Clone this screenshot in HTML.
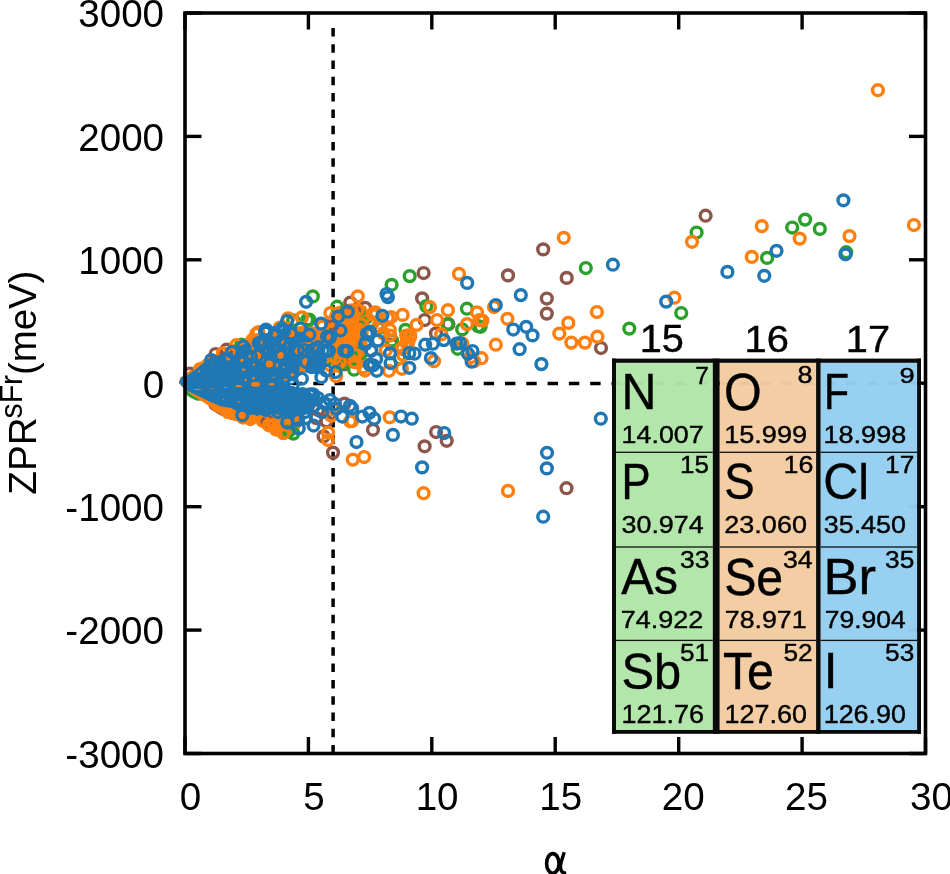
<!DOCTYPE html>
<html><head><meta charset="utf-8"><style>
html,body{margin:0;padding:0;background:#fff;}
svg{display:block;}
</style></head><body>
<svg width="950" height="874" viewBox="0 0 950 874" style="will-change:transform">
<line x1="185.0" y1="753.5" x2="185.0" y2="737" stroke="#000" stroke-width="3.4"/>
<line x1="185.0" y1="13" x2="185.0" y2="29.5" stroke="#000" stroke-width="3.4"/>
<line x1="308.4" y1="753.5" x2="308.4" y2="737" stroke="#000" stroke-width="3.4"/>
<line x1="308.4" y1="13" x2="308.4" y2="29.5" stroke="#000" stroke-width="3.4"/>
<line x1="431.8" y1="753.5" x2="431.8" y2="737" stroke="#000" stroke-width="3.4"/>
<line x1="431.8" y1="13" x2="431.8" y2="29.5" stroke="#000" stroke-width="3.4"/>
<line x1="555.2" y1="753.5" x2="555.2" y2="737" stroke="#000" stroke-width="3.4"/>
<line x1="555.2" y1="13" x2="555.2" y2="29.5" stroke="#000" stroke-width="3.4"/>
<line x1="678.7" y1="753.5" x2="678.7" y2="737" stroke="#000" stroke-width="3.4"/>
<line x1="678.7" y1="13" x2="678.7" y2="29.5" stroke="#000" stroke-width="3.4"/>
<line x1="802.1" y1="753.5" x2="802.1" y2="737" stroke="#000" stroke-width="3.4"/>
<line x1="802.1" y1="13" x2="802.1" y2="29.5" stroke="#000" stroke-width="3.4"/>
<line x1="925.5" y1="753.5" x2="925.5" y2="737" stroke="#000" stroke-width="3.4"/>
<line x1="925.5" y1="13" x2="925.5" y2="29.5" stroke="#000" stroke-width="3.4"/>
<line x1="185" y1="753.5" x2="201.5" y2="753.5" stroke="#000" stroke-width="3.4"/>
<line x1="925.5" y1="753.5" x2="909" y2="753.5" stroke="#000" stroke-width="3.4"/>
<line x1="185" y1="630.1" x2="201.5" y2="630.1" stroke="#000" stroke-width="3.4"/>
<line x1="925.5" y1="630.1" x2="909" y2="630.1" stroke="#000" stroke-width="3.4"/>
<line x1="185" y1="506.7" x2="201.5" y2="506.7" stroke="#000" stroke-width="3.4"/>
<line x1="925.5" y1="506.7" x2="909" y2="506.7" stroke="#000" stroke-width="3.4"/>
<line x1="185" y1="383.2" x2="201.5" y2="383.2" stroke="#000" stroke-width="3.4"/>
<line x1="925.5" y1="383.2" x2="909" y2="383.2" stroke="#000" stroke-width="3.4"/>
<line x1="185" y1="259.8" x2="201.5" y2="259.8" stroke="#000" stroke-width="3.4"/>
<line x1="925.5" y1="259.8" x2="909" y2="259.8" stroke="#000" stroke-width="3.4"/>
<line x1="185" y1="136.4" x2="201.5" y2="136.4" stroke="#000" stroke-width="3.4"/>
<line x1="925.5" y1="136.4" x2="909" y2="136.4" stroke="#000" stroke-width="3.4"/>
<line x1="185" y1="13.0" x2="201.5" y2="13.0" stroke="#000" stroke-width="3.4"/>
<line x1="925.5" y1="13.0" x2="909" y2="13.0" stroke="#000" stroke-width="3.4"/>
<line x1="185.5" y1="383.5" x2="921" y2="383.5" stroke="#000" stroke-width="3.5" stroke-dasharray="10.4 10.9"/>
<line x1="333.1" y1="27.9" x2="333.1" y2="753.5" stroke="#000" stroke-width="3.5" stroke-dasharray="8.5 7.8"/>
<polygon points="179,383 180,378 186,373 195,367 204,359 212,355 220,353 226,349 232,345 238,341 245,339 252,337 256,333 260,334 270,336 278,333 283,332 290,330 296,327 305,325 312,326 318,328 326,328 332,322 334,350 330,362 320,368 310,370 300,372 296,380 290,386 185,390" fill="#ff7f0e"/>
<polygon points="185,389 189,392.5 194,396 199,398.5 203,400.5 197,400.8 191,398 186.5,395" fill="#2ca02c"/>
<polygon points="208,405 215,409 222,413 230,418 236,421 228,419 218,414 210,409" fill="#8c564b"/>
<polygon points="185,388.5 186.6,391.1 191.4,393.9 196.1,397.7 203.7,402.5 209.4,406.3 213.2,411 219.8,413.8 225,418.7 236,419.5 243.5,422.9 250.3,424.6 257,422.9 262.9,427.1 268.8,431.3 275.5,435.5 284,438.9 289,435.5 296,434 300,428 304,420 304,405 300,392 290,386" fill="#ff7f0e"/>
<polygon points="326,322 332,308 345,304 356,303 366,306 370,318 368,340 366,358 360,366 345,368 334,366 326,364" fill="#ff7f0e"/>
<g fill="none" stroke-width="3.45">
<circle cx="705.6" cy="215.7" r="5.4" stroke="#8c564b"/>
<circle cx="543.2" cy="249.4" r="5.4" stroke="#8c564b"/>
<circle cx="508" cy="275.4" r="5.4" stroke="#8c564b"/>
<circle cx="566.7" cy="277.9" r="5.4" stroke="#8c564b"/>
<circle cx="546.8" cy="298.5" r="5.4" stroke="#8c564b"/>
<circle cx="546.8" cy="313.6" r="5.4" stroke="#8c564b"/>
<circle cx="601" cy="348" r="5.4" stroke="#8c564b"/>
<circle cx="566.5" cy="488.2" r="5.4" stroke="#8c564b"/>
<circle cx="344.5" cy="403.6" r="5.4" stroke="#8c564b"/>
<circle cx="373" cy="429.8" r="5.4" stroke="#8c564b"/>
<circle cx="333" cy="452.6" r="5.4" stroke="#8c564b"/>
<circle cx="436.1" cy="432" r="5.4" stroke="#8c564b"/>
<circle cx="446.7" cy="440.8" r="5.4" stroke="#8c564b"/>
<circle cx="424.6" cy="446.3" r="5.4" stroke="#8c564b"/>
<circle cx="423.6" cy="273" r="5.4" stroke="#8c564b"/>
<circle cx="422.1" cy="298.4" r="5.4" stroke="#8c564b"/>
<circle cx="365.2" cy="307.8" r="5.4" stroke="#8c564b"/>
<circle cx="391.7" cy="344.6" r="5.4" stroke="#8c564b"/>
<circle cx="332.1" cy="326.2" r="5.4" stroke="#8c564b"/>
<circle cx="371.1" cy="350.6" r="5.4" stroke="#8c564b"/>
<circle cx="344.4" cy="364.3" r="5.4" stroke="#8c564b"/>
<circle cx="424.7" cy="320" r="5.4" stroke="#8c564b"/>
<circle cx="436" cy="333.4" r="5.4" stroke="#8c564b"/>
<circle cx="448.4" cy="324.1" r="5.4" stroke="#8c564b"/>
<circle cx="226.7" cy="349.6" r="5.4" stroke="#8c564b"/>
<circle cx="215.6" cy="354" r="5.4" stroke="#8c564b"/>
<circle cx="190" cy="373.5" r="5.4" stroke="#8c564b"/>
<circle cx="326.4" cy="421.3" r="5.4" stroke="#8c564b"/>
<circle cx="323.6" cy="436.4" r="5.4" stroke="#8c564b"/>
<circle cx="267.7" cy="422.2" r="5.4" stroke="#8c564b"/>
<circle cx="350.3" cy="302.6" r="5.4" stroke="#8c564b"/>
<circle cx="331.3" cy="324.2" r="5.4" stroke="#8c564b"/>
<circle cx="360.8" cy="326.3" r="5.4" stroke="#8c564b"/>
<circle cx="318" cy="410" r="5.4" stroke="#8c564b"/>
<circle cx="330" cy="414" r="5.4" stroke="#8c564b"/>
<circle cx="316" cy="418" r="5.4" stroke="#8c564b"/>
<circle cx="696.6" cy="232.5" r="5.4" stroke="#2ca02c"/>
<circle cx="792.2" cy="227.5" r="5.4" stroke="#2ca02c"/>
<circle cx="805.1" cy="219.6" r="5.4" stroke="#2ca02c"/>
<circle cx="819.8" cy="228.9" r="5.4" stroke="#2ca02c"/>
<circle cx="846.2" cy="252.2" r="5.4" stroke="#2ca02c"/>
<circle cx="767.1" cy="257.9" r="5.4" stroke="#2ca02c"/>
<circle cx="681.2" cy="313" r="5.4" stroke="#2ca02c"/>
<circle cx="629.3" cy="328.6" r="5.4" stroke="#2ca02c"/>
<circle cx="585.8" cy="268" r="5.4" stroke="#2ca02c"/>
<circle cx="480.6" cy="326.8" r="5.4" stroke="#2ca02c"/>
<circle cx="462.2" cy="329.4" r="5.4" stroke="#2ca02c"/>
<circle cx="391.6" cy="284.8" r="5.4" stroke="#2ca02c"/>
<circle cx="409.7" cy="276.1" r="5.4" stroke="#2ca02c"/>
<circle cx="426.3" cy="306.1" r="5.4" stroke="#2ca02c"/>
<circle cx="466.9" cy="308.7" r="5.4" stroke="#2ca02c"/>
<circle cx="337.1" cy="306.7" r="5.4" stroke="#2ca02c"/>
<circle cx="366.3" cy="317.7" r="5.4" stroke="#2ca02c"/>
<circle cx="392" cy="340.5" r="5.4" stroke="#2ca02c"/>
<circle cx="378.4" cy="328.2" r="5.4" stroke="#2ca02c"/>
<circle cx="342.4" cy="362.9" r="5.4" stroke="#2ca02c"/>
<circle cx="354.1" cy="369.7" r="5.4" stroke="#2ca02c"/>
<circle cx="361.1" cy="353.1" r="5.4" stroke="#2ca02c"/>
<circle cx="447.4" cy="324.1" r="5.4" stroke="#2ca02c"/>
<circle cx="405.5" cy="329.8" r="5.4" stroke="#2ca02c"/>
<circle cx="457.7" cy="348.8" r="5.4" stroke="#2ca02c"/>
<circle cx="478.2" cy="326.2" r="5.4" stroke="#2ca02c"/>
<circle cx="402.1" cy="348.8" r="5.4" stroke="#2ca02c"/>
<circle cx="312.8" cy="296.4" r="5.4" stroke="#2ca02c"/>
<circle cx="307.2" cy="319.8" r="5.4" stroke="#2ca02c"/>
<circle cx="293.2" cy="320.3" r="5.4" stroke="#2ca02c"/>
<circle cx="241.4" cy="344.5" r="5.4" stroke="#2ca02c"/>
<circle cx="309.3" cy="319.6" r="5.4" stroke="#2ca02c"/>
<circle cx="339.5" cy="363.3" r="5.4" stroke="#2ca02c"/>
<circle cx="326.4" cy="359.8" r="5.4" stroke="#2ca02c"/>
<circle cx="293.3" cy="433.6" r="5.4" stroke="#2ca02c"/>
<circle cx="289" cy="431" r="5.4" stroke="#2ca02c"/>
<circle cx="360.8" cy="324.2" r="5.4" stroke="#2ca02c"/>
<circle cx="337.1" cy="355.8" r="5.4" stroke="#2ca02c"/>
<circle cx="370" cy="321.3" r="5.4" stroke="#2ca02c"/>
<circle cx="399.5" cy="358.2" r="5.4" stroke="#2ca02c"/>
<circle cx="877.9" cy="90.2" r="5.4" stroke="#ff7f0e"/>
<circle cx="913.9" cy="225" r="5.4" stroke="#ff7f0e"/>
<circle cx="692" cy="241.8" r="5.4" stroke="#ff7f0e"/>
<circle cx="761.8" cy="226.1" r="5.4" stroke="#ff7f0e"/>
<circle cx="799.7" cy="238.6" r="5.4" stroke="#ff7f0e"/>
<circle cx="849.5" cy="236.1" r="5.4" stroke="#ff7f0e"/>
<circle cx="751.8" cy="256.9" r="5.4" stroke="#ff7f0e"/>
<circle cx="674.4" cy="297.7" r="5.4" stroke="#ff7f0e"/>
<circle cx="563.8" cy="237.8" r="5.4" stroke="#ff7f0e"/>
<circle cx="494" cy="307" r="5.4" stroke="#ff7f0e"/>
<circle cx="477" cy="312.3" r="5.4" stroke="#ff7f0e"/>
<circle cx="507.4" cy="318.8" r="5.4" stroke="#ff7f0e"/>
<circle cx="596.9" cy="312" r="5.4" stroke="#ff7f0e"/>
<circle cx="568.3" cy="322.9" r="5.4" stroke="#ff7f0e"/>
<circle cx="482.4" cy="320.6" r="5.4" stroke="#ff7f0e"/>
<circle cx="467" cy="324.1" r="5.4" stroke="#ff7f0e"/>
<circle cx="559.3" cy="333.6" r="5.4" stroke="#ff7f0e"/>
<circle cx="571.3" cy="342.6" r="5.4" stroke="#ff7f0e"/>
<circle cx="584.9" cy="342.6" r="5.4" stroke="#ff7f0e"/>
<circle cx="597.4" cy="336.7" r="5.4" stroke="#ff7f0e"/>
<circle cx="495.8" cy="344.7" r="5.4" stroke="#ff7f0e"/>
<circle cx="470.7" cy="357.3" r="5.4" stroke="#ff7f0e"/>
<circle cx="481.5" cy="358.2" r="5.4" stroke="#ff7f0e"/>
<circle cx="462.2" cy="343.4" r="5.4" stroke="#ff7f0e"/>
<circle cx="508" cy="490.9" r="5.4" stroke="#ff7f0e"/>
<circle cx="352.1" cy="421" r="5.4" stroke="#ff7f0e"/>
<circle cx="332.9" cy="409.2" r="5.4" stroke="#ff7f0e"/>
<circle cx="389.7" cy="417.3" r="5.4" stroke="#ff7f0e"/>
<circle cx="328.1" cy="432.6" r="5.4" stroke="#ff7f0e"/>
<circle cx="328" cy="440" r="5.4" stroke="#ff7f0e"/>
<circle cx="352.8" cy="459.6" r="5.4" stroke="#ff7f0e"/>
<circle cx="364.2" cy="457" r="5.4" stroke="#ff7f0e"/>
<circle cx="423.6" cy="493.2" r="5.4" stroke="#ff7f0e"/>
<circle cx="459" cy="273.9" r="5.4" stroke="#ff7f0e"/>
<circle cx="357.8" cy="296.3" r="5.4" stroke="#ff7f0e"/>
<circle cx="429.9" cy="307.1" r="5.4" stroke="#ff7f0e"/>
<circle cx="447.9" cy="310.2" r="5.4" stroke="#ff7f0e"/>
<circle cx="402.6" cy="314.9" r="5.4" stroke="#ff7f0e"/>
<circle cx="375.8" cy="314.9" r="5.4" stroke="#ff7f0e"/>
<circle cx="387.7" cy="318" r="5.4" stroke="#ff7f0e"/>
<circle cx="389.9" cy="330" r="5.4" stroke="#ff7f0e"/>
<circle cx="357.5" cy="310.1" r="5.4" stroke="#ff7f0e"/>
<circle cx="350.6" cy="326.2" r="5.4" stroke="#ff7f0e"/>
<circle cx="360.9" cy="324.1" r="5.4" stroke="#ff7f0e"/>
<circle cx="378.1" cy="326.9" r="5.4" stroke="#ff7f0e"/>
<circle cx="401.9" cy="348.2" r="5.4" stroke="#ff7f0e"/>
<circle cx="406.2" cy="335.5" r="5.4" stroke="#ff7f0e"/>
<circle cx="354.6" cy="362.1" r="5.4" stroke="#ff7f0e"/>
<circle cx="335.3" cy="357.4" r="5.4" stroke="#ff7f0e"/>
<circle cx="401.9" cy="368.8" r="5.4" stroke="#ff7f0e"/>
<circle cx="363" cy="367.4" r="5.4" stroke="#ff7f0e"/>
<circle cx="437.1" cy="320" r="5.4" stroke="#ff7f0e"/>
<circle cx="416.6" cy="324.9" r="5.4" stroke="#ff7f0e"/>
<circle cx="479.3" cy="320" r="5.4" stroke="#ff7f0e"/>
<circle cx="441.2" cy="334.4" r="5.4" stroke="#ff7f0e"/>
<circle cx="410.1" cy="335.2" r="5.4" stroke="#ff7f0e"/>
<circle cx="406.2" cy="342.7" r="5.4" stroke="#ff7f0e"/>
<circle cx="434" cy="361.2" r="5.4" stroke="#ff7f0e"/>
<circle cx="474.1" cy="361.2" r="5.4" stroke="#ff7f0e"/>
<circle cx="403.1" cy="355" r="5.4" stroke="#ff7f0e"/>
<circle cx="302" cy="317.4" r="5.4" stroke="#ff7f0e"/>
<circle cx="330.4" cy="313" r="5.4" stroke="#ff7f0e"/>
<circle cx="288.1" cy="318.3" r="5.4" stroke="#ff7f0e"/>
<circle cx="279.9" cy="327.5" r="5.4" stroke="#ff7f0e"/>
<circle cx="223" cy="353.3" r="5.4" stroke="#ff7f0e"/>
<circle cx="236.3" cy="345.2" r="5.4" stroke="#ff7f0e"/>
<circle cx="252.3" cy="340.2" r="5.4" stroke="#ff7f0e"/>
<circle cx="258.4" cy="332" r="5.4" stroke="#ff7f0e"/>
<circle cx="200" cy="369" r="5.4" stroke="#ff7f0e"/>
<circle cx="256.2" cy="334" r="5.4" stroke="#ff7f0e"/>
<circle cx="346.5" cy="319" r="5.4" stroke="#ff7f0e"/>
<circle cx="340.3" cy="336.5" r="5.4" stroke="#ff7f0e"/>
<circle cx="355.7" cy="336.5" r="5.4" stroke="#ff7f0e"/>
<circle cx="350.6" cy="342.7" r="5.4" stroke="#ff7f0e"/>
<circle cx="343.4" cy="348.8" r="5.4" stroke="#ff7f0e"/>
<circle cx="355.7" cy="355" r="5.4" stroke="#ff7f0e"/>
<circle cx="383.5" cy="333.4" r="5.4" stroke="#ff7f0e"/>
<circle cx="408.2" cy="342.7" r="5.4" stroke="#ff7f0e"/>
<circle cx="358.8" cy="330.3" r="5.4" stroke="#ff7f0e"/>
<circle cx="336.5" cy="346.3" r="5.4" stroke="#ff7f0e"/>
<circle cx="305" cy="350" r="5.4" stroke="#ff7f0e"/>
<circle cx="306" cy="362" r="5.4" stroke="#ff7f0e"/>
<circle cx="304" cy="342" r="5.4" stroke="#ff7f0e"/>
<circle cx="336.1" cy="376.2" r="5.4" stroke="#ff7f0e"/>
<circle cx="330" cy="365" r="5.4" stroke="#ff7f0e"/>
<circle cx="340" cy="362" r="5.4" stroke="#ff7f0e"/>
<circle cx="283.4" cy="433.2" r="5.4" stroke="#ff7f0e"/>
<circle cx="273.4" cy="425" r="5.4" stroke="#ff7f0e"/>
<circle cx="331.2" cy="415.6" r="5.4" stroke="#ff7f0e"/>
<circle cx="350.1" cy="421.3" r="5.4" stroke="#ff7f0e"/>
<circle cx="236" cy="414" r="5.4" stroke="#ff7f0e"/>
<circle cx="250.3" cy="419" r="5.4" stroke="#ff7f0e"/>
<circle cx="262.9" cy="421" r="5.4" stroke="#ff7f0e"/>
<circle cx="268.8" cy="425.3" r="5.4" stroke="#ff7f0e"/>
<circle cx="276" cy="429.5" r="5.4" stroke="#ff7f0e"/>
<circle cx="229" cy="412" r="5.4" stroke="#ff7f0e"/>
<circle cx="352.4" cy="323.7" r="5.4" stroke="#ff7f0e"/>
<circle cx="351.3" cy="334.2" r="5.4" stroke="#ff7f0e"/>
<circle cx="340.8" cy="341" r="5.4" stroke="#ff7f0e"/>
<circle cx="372.4" cy="314.2" r="5.4" stroke="#ff7f0e"/>
<circle cx="372.4" cy="323.7" r="5.4" stroke="#ff7f0e"/>
<circle cx="365" cy="370.5" r="5.4" stroke="#ff7f0e"/>
<circle cx="375.3" cy="312.4" r="5.4" stroke="#ff7f0e"/>
<circle cx="391" cy="317.1" r="5.4" stroke="#ff7f0e"/>
<circle cx="390" cy="335.5" r="5.4" stroke="#ff7f0e"/>
<circle cx="410" cy="337.6" r="5.4" stroke="#ff7f0e"/>
<circle cx="385.8" cy="350.3" r="5.4" stroke="#ff7f0e"/>
<circle cx="388.9" cy="370.8" r="5.4" stroke="#ff7f0e"/>
<circle cx="322.5" cy="326.5" r="5.4" stroke="#ff7f0e"/>
<circle cx="243" cy="417.5" r="5.4" stroke="#ff7f0e"/>
<circle cx="285" cy="424.5" r="5.4" stroke="#ff7f0e"/>
</g>
<polygon points="179,383 181,377.5 188,374.5 196,369 204,362.5 210,357.5 220,357.5 226,356 233,357.5 238,347 245,343.5 252,345 258,341 266,337 276,333 285,326 295,330 303,333 310,338 314,344 320,346 326,350 327,360 325,370 318,374 310,374 305,372 298,377 295,383 290,386 185,389" fill="#1f77b4"/>
<polygon points="185,388.5 187.1,391 196.1,395 208.4,401 219.8,406 225,407 230.9,408 236.8,411 240,411.5 245,411.5 250.3,413 257,416 263.7,414 275.5,414 282,416 288,417 296,416 305,415 311,412 316,405 315,396 308,390 300,388 290,385.8 262,385.8" fill="#1f77b4"/>
<polygon points="300.5,343 311.5,342 309,352 306,365 305,372 299.5,372 300,360" fill="#ff7f0e"/>
<ellipse cx="228.1" cy="358.4" rx="2.5" ry="2" fill="#ff7f0e"/>
<ellipse cx="242.5" cy="360.4" rx="2" ry="1.6" fill="#ff7f0e"/>
<ellipse cx="213.2" cy="363.6" rx="1.2" ry="1.2" fill="#ff7f0e"/>
<ellipse cx="199.2" cy="371.6" rx="1" ry="1" fill="#ff7f0e"/>
<ellipse cx="244.1" cy="369.6" rx="1.5" ry="0.8" fill="#ff7f0e"/>
<ellipse cx="245.7" cy="380" rx="1" ry="1" fill="#ff7f0e"/>
<ellipse cx="238.5" cy="386.1" rx="2" ry="0.8" fill="#ff7f0e"/>
<ellipse cx="225.7" cy="387.3" rx="2" ry="0.6" fill="#ff7f0e"/>
<ellipse cx="251" cy="356.2" rx="2.5" ry="1.8" fill="#ff7f0e"/>
<ellipse cx="242.4" cy="360.3" rx="2" ry="1.6" fill="#ff7f0e"/>
<ellipse cx="264" cy="360.3" rx="2.5" ry="1.5" fill="#ff7f0e"/>
<ellipse cx="274.3" cy="365.1" rx="4" ry="2.5" fill="#ff7f0e"/>
<ellipse cx="287.4" cy="343.1" rx="2.5" ry="1.5" fill="#ff7f0e"/>
<ellipse cx="280.5" cy="345.2" rx="1.5" ry="1.5" fill="#ff7f0e"/>
<ellipse cx="291.5" cy="334.2" rx="1.5" ry="3" fill="#ff7f0e"/>
<ellipse cx="282.6" cy="337.6" rx="1.2" ry="1.2" fill="#ff7f0e"/>
<ellipse cx="266" cy="350.7" rx="1" ry="1" fill="#ff7f0e"/>
<ellipse cx="277.7" cy="356.2" rx="1" ry="2" fill="#ff7f0e"/>
<ellipse cx="253.5" cy="346" rx="2.2" ry="5.5" fill="#ff7f0e"/>
<ellipse cx="259.9" cy="343.5" rx="1.5" ry="2.5" fill="#ff7f0e"/>
<ellipse cx="253.9" cy="364.6" rx="1.2" ry="1.2" fill="#ff7f0e"/>
<ellipse cx="243.8" cy="369.7" rx="2" ry="0.8" fill="#ff7f0e"/>
<ellipse cx="286.7" cy="351.7" rx="1.2" ry="1.2" fill="#ff7f0e"/>
<ellipse cx="255.5" cy="384.2" rx="4.5" ry="2.5" fill="#ff7f0e"/>
<ellipse cx="271.6" cy="384.2" rx="3" ry="1.2" fill="#ff7f0e"/>
<ellipse cx="292.4" cy="374.7" rx="1.8" ry="1.8" fill="#ff7f0e"/>
<ellipse cx="285.5" cy="379.8" rx="2" ry="1" fill="#ff7f0e"/>
<ellipse cx="253.6" cy="378.2" rx="1.2" ry="1.2" fill="#ff7f0e"/>
<ellipse cx="245.4" cy="379.8" rx="1" ry="1" fill="#ff7f0e"/>
<ellipse cx="240.6" cy="386.4" rx="1.5" ry="0.8" fill="#ff7f0e"/>
<ellipse cx="283.6" cy="367.2" rx="1" ry="1" fill="#ff7f0e"/>
<ellipse cx="273.5" cy="377.3" rx="0.8" ry="0.8" fill="#ff7f0e"/>
<ellipse cx="276.6" cy="347.6" rx="0.8" ry="0.8" fill="#ff7f0e"/>
<ellipse cx="291" cy="381.5" rx="2.5" ry="1.2" fill="#ffffff"/>
<ellipse cx="298" cy="386" rx="2" ry="1.5" fill="#ffffff"/>
<ellipse cx="197.6" cy="389.3" rx="4" ry="0.5" fill="#ff7f0e"/>
<ellipse cx="212" cy="388.8" rx="3" ry="0.4" fill="#ff7f0e"/>
<ellipse cx="238.1" cy="386.3" rx="3" ry="1" fill="#ff7f0e"/>
<ellipse cx="243.1" cy="369.6" rx="1.5" ry="1" fill="#ff7f0e"/>
<ellipse cx="238.7" cy="402.1" rx="1" ry="1" fill="#ff7f0e"/>
<ellipse cx="223.5" cy="399.3" rx="0.7" ry="0.7" fill="#ff7f0e"/>
<ellipse cx="207" cy="388.9" rx="2.5" ry="0.4" fill="#8c564b"/>
<ellipse cx="233" cy="387.2" rx="1.5" ry="0.4" fill="#2ca02c"/>
<circle cx="264.2" cy="342.1" r="3.7" fill="#ff7f0e"/>
<circle cx="264.2" cy="342.1" r="5.4" fill="none" stroke="#1f77b4" stroke-width="3.45"/>
<circle cx="274.3" cy="335.4" r="3.7" fill="#ff7f0e"/>
<circle cx="274.3" cy="335.4" r="5.4" fill="none" stroke="#1f77b4" stroke-width="3.45"/>
<circle cx="284.4" cy="343.8" r="3.7" fill="#ff7f0e"/>
<circle cx="284.4" cy="343.8" r="5.4" fill="none" stroke="#1f77b4" stroke-width="3.45"/>
<circle cx="281" cy="355.6" r="3.7" fill="#ff7f0e"/>
<circle cx="281" cy="355.6" r="5.4" fill="none" stroke="#1f77b4" stroke-width="3.45"/>
<circle cx="269.3" cy="364" r="3.7" fill="#ff7f0e"/>
<circle cx="269.3" cy="364" r="5.4" fill="none" stroke="#1f77b4" stroke-width="3.45"/>
<circle cx="257.5" cy="355.6" r="3.7" fill="#ff7f0e"/>
<circle cx="257.5" cy="355.6" r="5.4" fill="none" stroke="#1f77b4" stroke-width="3.45"/>
<circle cx="291.2" cy="333.7" r="3.7" fill="#ff7f0e"/>
<circle cx="291.2" cy="333.7" r="5.4" fill="none" stroke="#1f77b4" stroke-width="3.45"/>
<circle cx="297.9" cy="350.5" r="3.7" fill="#ff7f0e"/>
<circle cx="297.9" cy="350.5" r="5.4" fill="none" stroke="#1f77b4" stroke-width="3.45"/>
<circle cx="311.4" cy="350.5" r="3.7" fill="#ff7f0e"/>
<circle cx="311.4" cy="350.5" r="5.4" fill="none" stroke="#1f77b4" stroke-width="3.45"/>
<circle cx="318.1" cy="347.2" r="3.7" fill="#ff7f0e"/>
<circle cx="318.1" cy="347.2" r="5.4" fill="none" stroke="#1f77b4" stroke-width="3.45"/>
<circle cx="326.5" cy="351" r="3.7" fill="#ffffff"/>
<circle cx="326.5" cy="351" r="5.4" fill="none" stroke="#1f77b4" stroke-width="3.45"/>
<g fill="none" stroke-width="3.45">
<circle cx="843.4" cy="200.3" r="5.4" stroke="#1f77b4"/>
<circle cx="845.5" cy="254.3" r="5.4" stroke="#1f77b4"/>
<circle cx="776.5" cy="250.8" r="5.4" stroke="#1f77b4"/>
<circle cx="764.3" cy="275.8" r="5.4" stroke="#1f77b4"/>
<circle cx="727.4" cy="271.9" r="5.4" stroke="#1f77b4"/>
<circle cx="612.9" cy="264.7" r="5.4" stroke="#1f77b4"/>
<circle cx="666.2" cy="301.6" r="5.4" stroke="#1f77b4"/>
<circle cx="520.8" cy="295.1" r="5.4" stroke="#1f77b4"/>
<circle cx="495.8" cy="305" r="5.4" stroke="#1f77b4"/>
<circle cx="513.3" cy="329.5" r="5.4" stroke="#1f77b4"/>
<circle cx="526.2" cy="326.8" r="5.4" stroke="#1f77b4"/>
<circle cx="532.5" cy="335.4" r="5.4" stroke="#1f77b4"/>
<circle cx="519.6" cy="349.2" r="5.4" stroke="#1f77b4"/>
<circle cx="541.4" cy="364.1" r="5.4" stroke="#1f77b4"/>
<circle cx="600.8" cy="418.7" r="5.4" stroke="#1f77b4"/>
<circle cx="468" cy="353.7" r="5.4" stroke="#1f77b4"/>
<circle cx="472.5" cy="351" r="5.4" stroke="#1f77b4"/>
<circle cx="471.6" cy="361.7" r="5.4" stroke="#1f77b4"/>
<circle cx="460" cy="343" r="5.4" stroke="#1f77b4"/>
<circle cx="547" cy="452.8" r="5.4" stroke="#1f77b4"/>
<circle cx="546.8" cy="468.4" r="5.4" stroke="#1f77b4"/>
<circle cx="543.2" cy="516.7" r="5.4" stroke="#1f77b4"/>
<circle cx="336.4" cy="408.8" r="5.4" stroke="#1f77b4"/>
<circle cx="349.9" cy="405.8" r="5.4" stroke="#1f77b4"/>
<circle cx="352.1" cy="408.4" r="5.4" stroke="#1f77b4"/>
<circle cx="342.2" cy="416.5" r="5.4" stroke="#1f77b4"/>
<circle cx="362.4" cy="416.5" r="5.4" stroke="#1f77b4"/>
<circle cx="369.5" cy="412.8" r="5.4" stroke="#1f77b4"/>
<circle cx="374.2" cy="418.7" r="5.4" stroke="#1f77b4"/>
<circle cx="401" cy="416.5" r="5.4" stroke="#1f77b4"/>
<circle cx="411.8" cy="418.7" r="5.4" stroke="#1f77b4"/>
<circle cx="392.9" cy="434.9" r="5.4" stroke="#1f77b4"/>
<circle cx="356.5" cy="442" r="5.4" stroke="#1f77b4"/>
<circle cx="444.2" cy="433" r="5.4" stroke="#1f77b4"/>
<circle cx="422.1" cy="467.4" r="5.4" stroke="#1f77b4"/>
<circle cx="386.5" cy="294" r="5.4" stroke="#1f77b4"/>
<circle cx="387.9" cy="297.1" r="5.4" stroke="#1f77b4"/>
<circle cx="467.2" cy="282.9" r="5.4" stroke="#1f77b4"/>
<circle cx="347.8" cy="311.7" r="5.4" stroke="#1f77b4"/>
<circle cx="338.2" cy="316.7" r="5.4" stroke="#1f77b4"/>
<circle cx="340.5" cy="330.5" r="5.4" stroke="#1f77b4"/>
<circle cx="382.4" cy="315.8" r="5.4" stroke="#1f77b4"/>
<circle cx="367" cy="333.8" r="5.4" stroke="#1f77b4"/>
<circle cx="377.9" cy="340.5" r="5.4" stroke="#1f77b4"/>
<circle cx="365.2" cy="344.2" r="5.4" stroke="#1f77b4"/>
<circle cx="347.1" cy="351.1" r="5.4" stroke="#1f77b4"/>
<circle cx="330" cy="337.5" r="5.4" stroke="#1f77b4"/>
<circle cx="328.9" cy="350.7" r="5.4" stroke="#1f77b4"/>
<circle cx="390.1" cy="353.4" r="5.4" stroke="#1f77b4"/>
<circle cx="390.6" cy="363" r="5.4" stroke="#1f77b4"/>
<circle cx="373.2" cy="365.3" r="5.4" stroke="#1f77b4"/>
<circle cx="376.1" cy="358.9" r="5.4" stroke="#1f77b4"/>
<circle cx="409.3" cy="367.8" r="5.4" stroke="#1f77b4"/>
<circle cx="335.7" cy="372" r="5.4" stroke="#1f77b4"/>
<circle cx="409.3" cy="353" r="5.4" stroke="#1f77b4"/>
<circle cx="425.2" cy="344.7" r="5.4" stroke="#1f77b4"/>
<circle cx="432.9" cy="343.7" r="5.4" stroke="#1f77b4"/>
<circle cx="443.8" cy="340.1" r="5.4" stroke="#1f77b4"/>
<circle cx="456.6" cy="343.7" r="5.4" stroke="#1f77b4"/>
<circle cx="414.5" cy="353.7" r="5.4" stroke="#1f77b4"/>
<circle cx="430.9" cy="358.1" r="5.4" stroke="#1f77b4"/>
<circle cx="306.1" cy="301.8" r="5.4" stroke="#1f77b4"/>
<circle cx="287.1" cy="321" r="5.4" stroke="#1f77b4"/>
<circle cx="321.1" cy="323.6" r="5.4" stroke="#1f77b4"/>
<circle cx="266" cy="329.6" r="5.4" stroke="#1f77b4"/>
<circle cx="211.2" cy="360" r="5.4" stroke="#1f77b4"/>
<circle cx="227.4" cy="358.5" r="5.4" stroke="#1f77b4"/>
<circle cx="243.4" cy="346.5" r="5.4" stroke="#1f77b4"/>
<circle cx="260.8" cy="343.4" r="5.4" stroke="#1f77b4"/>
<circle cx="265.1" cy="332.3" r="5.4" stroke="#1f77b4"/>
<circle cx="240" cy="359.2" r="5.4" stroke="#1f77b4"/>
<circle cx="251" cy="356.8" r="5.4" stroke="#1f77b4"/>
<circle cx="266.3" cy="332.5" r="5.4" stroke="#1f77b4"/>
<circle cx="284" cy="330.9" r="5.4" stroke="#1f77b4"/>
<circle cx="300.7" cy="328.5" r="5.4" stroke="#1f77b4"/>
<circle cx="309.4" cy="334.7" r="5.4" stroke="#1f77b4"/>
<circle cx="327.1" cy="336.6" r="5.4" stroke="#1f77b4"/>
<circle cx="316.7" cy="350.2" r="5.4" stroke="#1f77b4"/>
<circle cx="327.8" cy="350.7" r="5.4" stroke="#1f77b4"/>
<circle cx="344.1" cy="350.8" r="5.4" stroke="#1f77b4"/>
<circle cx="301.9" cy="378.7" r="5.4" stroke="#1f77b4"/>
<circle cx="321.4" cy="377.2" r="5.4" stroke="#1f77b4"/>
<circle cx="292.8" cy="384.7" r="5.4" stroke="#1f77b4"/>
<circle cx="220" cy="362" r="5.4" stroke="#1f77b4"/>
<circle cx="232" cy="352" r="5.4" stroke="#1f77b4"/>
<circle cx="275" cy="333" r="5.4" stroke="#1f77b4"/>
<circle cx="282" cy="340" r="5.4" stroke="#1f77b4"/>
<circle cx="270" cy="345" r="5.4" stroke="#1f77b4"/>
<circle cx="290" cy="345" r="5.4" stroke="#1f77b4"/>
<circle cx="280" cy="355" r="5.4" stroke="#1f77b4"/>
<circle cx="242.3" cy="415.3" r="5.4" stroke="#1f77b4"/>
<circle cx="287.3" cy="422.5" r="5.4" stroke="#1f77b4"/>
<circle cx="298.7" cy="428.4" r="5.4" stroke="#1f77b4"/>
<circle cx="313.6" cy="425.5" r="5.4" stroke="#1f77b4"/>
<circle cx="309.4" cy="394.7" r="5.4" stroke="#1f77b4"/>
<circle cx="313.4" cy="394.6" r="5.4" stroke="#1f77b4"/>
<circle cx="323.8" cy="402.9" r="5.4" stroke="#1f77b4"/>
<circle cx="311.8" cy="394.4" r="5.4" stroke="#1f77b4"/>
<circle cx="302.3" cy="394" r="5.4" stroke="#1f77b4"/>
<circle cx="330" cy="400" r="5.4" stroke="#1f77b4"/>
<circle cx="258.8" cy="343.1" r="5.4" stroke="#1f77b4"/>
<circle cx="282" cy="328.7" r="5.4" stroke="#1f77b4"/>
<circle cx="322.9" cy="350.8" r="5.4" stroke="#1f77b4"/>
<circle cx="366" cy="342.1" r="5.4" stroke="#1f77b4"/>
<circle cx="326.1" cy="370.5" r="5.4" stroke="#1f77b4"/>
<circle cx="369.7" cy="364.7" r="5.4" stroke="#1f77b4"/>
<circle cx="371.3" cy="350.5" r="5.4" stroke="#1f77b4"/>
<circle cx="370" cy="331.8" r="5.4" stroke="#1f77b4"/>
<circle cx="376.8" cy="370.8" r="5.4" stroke="#1f77b4"/>
<circle cx="291.8" cy="393" r="5.4" stroke="#1f77b4"/>
<circle cx="296" cy="404" r="5.4" stroke="#1f77b4"/>
<circle cx="305" cy="412" r="5.4" stroke="#1f77b4"/>
<circle cx="290" cy="410" r="5.4" stroke="#1f77b4"/>
<circle cx="278" cy="412" r="5.4" stroke="#1f77b4"/>
<circle cx="266" cy="410" r="5.4" stroke="#1f77b4"/>
<circle cx="250" cy="408" r="5.4" stroke="#1f77b4"/>
<circle cx="308" cy="400" r="5.4" stroke="#1f77b4"/>
<circle cx="318" cy="398" r="5.4" stroke="#1f77b4"/>
<circle cx="326" cy="404" r="5.4" stroke="#1f77b4"/>
<circle cx="314" cy="406" r="5.4" stroke="#1f77b4"/>
<circle cx="322" cy="412" r="5.4" stroke="#1f77b4"/>
<circle cx="335" cy="404" r="5.4" stroke="#1f77b4"/>
<circle cx="306" cy="418" r="5.4" stroke="#1f77b4"/>
<circle cx="298" cy="420" r="5.4" stroke="#1f77b4"/>
<circle cx="304" cy="350" r="5.4" stroke="#1f77b4"/>
<circle cx="306" cy="362" r="5.4" stroke="#1f77b4"/>
</g>
<rect x="185" y="13" width="740.5" height="740.5" fill="none" stroke="#000" stroke-width="3.6"/>
<text x="179.84" y="809.80" font-family="Liberation Sans, sans-serif" font-size="38.60">0</text>
<text x="303.29" y="809.80" font-family="Liberation Sans, sans-serif" font-size="38.60">5</text>
<text x="415.66" y="809.80" font-family="Liberation Sans, sans-serif" font-size="38.60">10</text>
<text x="539.25" y="809.80" font-family="Liberation Sans, sans-serif" font-size="38.60">15</text>
<text x="661.79" y="809.80" font-family="Liberation Sans, sans-serif" font-size="38.60">20</text>
<text x="784.98" y="809.80" font-family="Liberation Sans, sans-serif" font-size="38.60">25</text>
<text x="909.98" y="809.80" font-family="Liberation Sans, sans-serif" font-size="38.60">30</text>
<text x="65.33" y="767.80" font-family="Liberation Sans, sans-serif" font-size="38.60">-3000</text>
<text x="65.33" y="644.38" font-family="Liberation Sans, sans-serif" font-size="38.60">-2000</text>
<text x="65.33" y="520.97" font-family="Liberation Sans, sans-serif" font-size="38.60">-1000</text>
<text x="142.72" y="397.55" font-family="Liberation Sans, sans-serif" font-size="38.60">0</text>
<text x="78.26" y="274.13" font-family="Liberation Sans, sans-serif" font-size="38.60">1000</text>
<text x="78.26" y="150.72" font-family="Liberation Sans, sans-serif" font-size="38.60">2000</text>
<text x="78.26" y="27.30" font-family="Liberation Sans, sans-serif" font-size="38.60">3000</text>
<g fill="none" stroke="#000" stroke-width="3.4"><ellipse cx="552.8" cy="863.4" rx="6.2" ry="9.8" stroke-width="3.6"/><path d="M564.2 852.2 L561.2 862 Q559.6 868 561.5 871 Q563 873.4 566.2 873.2"/></g>
<text transform="matrix(0,-0.9830,1.0000,0,36.00,494.76)" font-family="Liberation Sans, sans-serif" font-size="39.42" fill="#000">ZPR</text>
<text transform="matrix(0,-0.9464,1.0000,0,22.08,418.51)" font-family="Liberation Sans, sans-serif" font-size="32.00" fill="#000">sFr</text>
<text transform="matrix(0,-0.9969,1.0000,0,35.91,375.10)" font-family="Liberation Sans, sans-serif" font-size="38.50" fill="#000">(meV)</text>
<g fill-opacity="0.97">
<rect x="616" y="362.8" width="96.8" height="367.2" fill="#b1e5a8"/>
<rect x="719.6" y="362.8" width="96.5" height="367.2" fill="#f3cba0"/>
<rect x="820.6" y="362.8" width="96.5" height="367.2" fill="#94cef0"/>
</g>
<rect x="612" y="358.6" width="4" height="375.2" fill="#0a0a0a"/>
<rect x="917.1" y="358.6" width="3.9" height="375.2" fill="#0a0a0a"/>
<rect x="612" y="358.6" width="309" height="4.2" fill="#0a0a0a"/>
<rect x="612" y="730" width="309" height="3.8" fill="#0a0a0a"/>
<rect x="712.8" y="358.6" width="6.8" height="375.2" fill="#0a0a0a"/>
<rect x="816.1" y="358.6" width="4.5" height="375.2" fill="#0a0a0a"/>
<rect x="616" y="451.65" width="96.8" height="1.3" fill="#111"/>
<rect x="719.6" y="451.65" width="96.5" height="1.3" fill="#111"/>
<rect x="820.6" y="451.65" width="96.5" height="1.3" fill="#111"/>
<rect x="616" y="546.35" width="96.8" height="1.3" fill="#111"/>
<rect x="719.6" y="546.35" width="96.5" height="1.3" fill="#111"/>
<rect x="820.6" y="546.35" width="96.5" height="1.3" fill="#111"/>
<rect x="616" y="639.75" width="96.8" height="1.3" fill="#111"/>
<rect x="719.6" y="639.75" width="96.5" height="1.3" fill="#111"/>
<rect x="820.6" y="639.75" width="96.5" height="1.3" fill="#111"/>
<text transform="matrix(1.0421,0,0,1.0000,639.77,351.72)" font-family="Liberation Sans, sans-serif" font-size="38.14" fill="#000" stroke="#000" stroke-width="0.4">15</text>
<text transform="matrix(1.0610,0,0,1.0000,744.51,351.72)" font-family="Liberation Sans, sans-serif" font-size="37.61" fill="#000" stroke="#000" stroke-width="0.4">16</text>
<text transform="matrix(1.0602,0,0,1.0000,845.82,352.10)" font-family="Liberation Sans, sans-serif" font-size="37.54" fill="#000" stroke="#000" stroke-width="0.4">17</text>
<text transform="matrix(0.9679,0,0,1.0000,621.53,409.30)" font-family="Liberation Sans, sans-serif" font-size="50.00" fill="#000" stroke="#000" stroke-width="0.4">N</text>
<text transform="matrix(1.0202,0,0,1.0000,695.28,383.60)" font-family="Liberation Sans, sans-serif" font-size="23.91" fill="#000" stroke="#000" stroke-width="0.4">7</text>
<text transform="matrix(1.1019,0,0,1.0000,621.59,443.36)" font-family="Liberation Sans, sans-serif" font-size="24.37" fill="#000" stroke="#000" stroke-width="0.4">14.007</text>
<text transform="matrix(0.9480,0,0,1.0000,724.02,409.89)" font-family="Liberation Sans, sans-serif" font-size="51.13" fill="#000" stroke="#000" stroke-width="0.4">O</text>
<text transform="matrix(1.1627,0,0,1.0000,797.58,383.37)" font-family="Liberation Sans, sans-serif" font-size="23.24" fill="#000" stroke="#000" stroke-width="0.4">8</text>
<text transform="matrix(1.1131,0,0,1.0000,724.17,443.36)" font-family="Liberation Sans, sans-serif" font-size="24.37" fill="#000" stroke="#000" stroke-width="0.4">15.999</text>
<text transform="matrix(0.8204,0,0,1.0000,824.12,409.30)" font-family="Liberation Sans, sans-serif" font-size="50.00" fill="#000" stroke="#000" stroke-width="0.4">F</text>
<text transform="matrix(1.2351,0,0,1.0000,899.57,383.38)" font-family="Liberation Sans, sans-serif" font-size="22.11" fill="#000" stroke="#000" stroke-width="0.4">9</text>
<text transform="matrix(1.1084,0,0,1.0000,823.57,443.36)" font-family="Liberation Sans, sans-serif" font-size="24.37" fill="#000" stroke="#000" stroke-width="0.4">18.998</text>
<text transform="matrix(0.8685,0,0,1.0000,621.62,499.10)" font-family="Liberation Sans, sans-serif" font-size="50.14" fill="#000" stroke="#000" stroke-width="0.4">P</text>
<text transform="matrix(1.0718,0,0,1.0000,680.05,473.06)" font-family="Liberation Sans, sans-serif" font-size="24.29" fill="#000" stroke="#000" stroke-width="0.4">15</text>
<text transform="matrix(1.0959,0,0,1.0000,621.53,532.85)" font-family="Liberation Sans, sans-serif" font-size="24.51" fill="#000" stroke="#000" stroke-width="0.4">30.974</text>
<text transform="matrix(0.9012,0,0,1.0000,724.25,499.29)" font-family="Liberation Sans, sans-serif" font-size="50.56" fill="#000" stroke="#000" stroke-width="0.4">S</text>
<text transform="matrix(1.0825,0,0,1.0000,783.49,473.45)" font-family="Liberation Sans, sans-serif" font-size="24.79" fill="#000" stroke="#000" stroke-width="0.4">16</text>
<text transform="matrix(1.0893,0,0,1.0000,724.35,532.85)" font-family="Liberation Sans, sans-serif" font-size="24.79" fill="#000" stroke="#000" stroke-width="0.4">23.060</text>
<text transform="matrix(0.9886,0,0,1.0000,823.27,498.91)" font-family="Liberation Sans, sans-serif" font-size="49.12" fill="#000" stroke="#000" stroke-width="0.4">Cl</text>
<text transform="matrix(1.0799,0,0,1.0000,885.03,472.90)" font-family="Liberation Sans, sans-serif" font-size="24.35" fill="#000" stroke="#000" stroke-width="0.4">17</text>
<text transform="matrix(1.0857,0,0,1.0000,823.72,532.85)" font-family="Liberation Sans, sans-serif" font-size="24.79" fill="#000" stroke="#000" stroke-width="0.4">35.450</text>
<text transform="matrix(0.9538,0,0,1.0000,621.36,594.29)" font-family="Liberation Sans, sans-serif" font-size="50.79" fill="#000" stroke="#000" stroke-width="0.4">As</text>
<text transform="matrix(1.1201,0,0,1.0000,680.04,567.66)" font-family="Liberation Sans, sans-serif" font-size="23.66" fill="#000" stroke="#000" stroke-width="0.4">33</text>
<text transform="matrix(1.1014,0,0,1.0000,620.65,627.85)" font-family="Liberation Sans, sans-serif" font-size="24.51" fill="#000" stroke="#000" stroke-width="0.4">74.922</text>
<text transform="matrix(0.9392,0,0,1.0000,724.13,594.89)" font-family="Liberation Sans, sans-serif" font-size="51.41" fill="#000" stroke="#000" stroke-width="0.4">Se</text>
<text transform="matrix(1.1021,0,0,1.0000,782.93,567.66)" font-family="Liberation Sans, sans-serif" font-size="24.23" fill="#000" stroke="#000" stroke-width="0.4">34</text>
<text transform="matrix(1.0932,0,0,1.0000,724.76,627.85)" font-family="Liberation Sans, sans-serif" font-size="24.51" fill="#000" stroke="#000" stroke-width="0.4">78.971</text>
<text transform="matrix(1.0399,0,0,1.0000,823.39,594.40)" font-family="Liberation Sans, sans-serif" font-size="50.58" fill="#000" stroke="#000" stroke-width="0.4">Br</text>
<text transform="matrix(1.0861,0,0,1.0000,885.05,567.66)" font-family="Liberation Sans, sans-serif" font-size="24.23" fill="#000" stroke="#000" stroke-width="0.4">35</text>
<text transform="matrix(1.0804,0,0,1.0000,824.78,627.85)" font-family="Liberation Sans, sans-serif" font-size="24.51" fill="#000" stroke="#000" stroke-width="0.4">79.904</text>
<text transform="matrix(0.9749,0,0,1.0000,621.40,688.70)" font-family="Liberation Sans, sans-serif" font-size="50.07" fill="#000" stroke="#000" stroke-width="0.4">Sb</text>
<text transform="matrix(1.0703,0,0,1.0000,680.05,660.96)" font-family="Liberation Sans, sans-serif" font-size="24.43" fill="#000" stroke="#000" stroke-width="0.4">51</text>
<text transform="matrix(1.0639,0,0,1.0000,621.58,722.65)" font-family="Liberation Sans, sans-serif" font-size="25.35" fill="#000" stroke="#000" stroke-width="0.4">121.76</text>
<text transform="matrix(0.9403,0,0,1.0000,722.89,688.69)" font-family="Liberation Sans, sans-serif" font-size="51.29" fill="#000" stroke="#000" stroke-width="0.4">Te</text>
<text transform="matrix(1.0721,0,0,1.0000,783.45,660.95)" font-family="Liberation Sans, sans-serif" font-size="24.51" fill="#000" stroke="#000" stroke-width="0.4">52</text>
<text transform="matrix(1.0621,0,0,1.0000,724.58,722.65)" font-family="Liberation Sans, sans-serif" font-size="25.35" fill="#000" stroke="#000" stroke-width="0.4">127.60</text>
<text transform="matrix(0.9982,0,0,1.0000,823.75,688.10)" font-family="Liberation Sans, sans-serif" font-size="49.57" fill="#000" stroke="#000" stroke-width="0.4">I</text>
<text transform="matrix(1.0736,0,0,1.0000,885.05,660.95)" font-family="Liberation Sans, sans-serif" font-size="24.51" fill="#000" stroke="#000" stroke-width="0.4">53</text>
<text transform="matrix(1.0621,0,0,1.0000,823.68,722.65)" font-family="Liberation Sans, sans-serif" font-size="25.35" fill="#000" stroke="#000" stroke-width="0.4">126.90</text>
</svg>
</body></html>
